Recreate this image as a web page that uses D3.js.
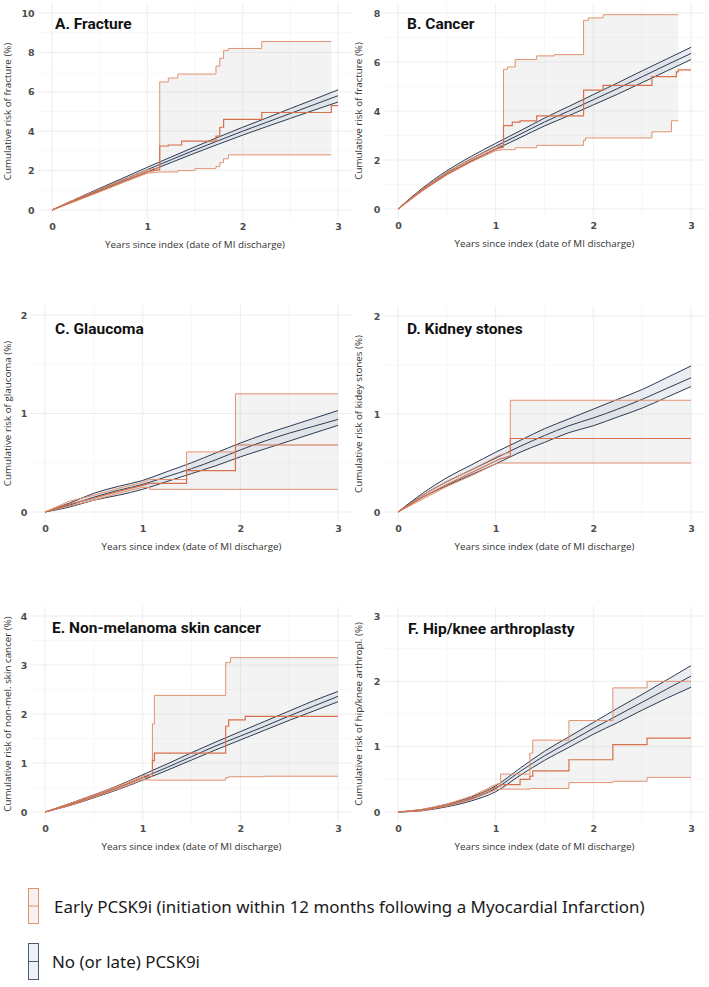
<!DOCTYPE html>
<html>
<head>
<meta charset="utf-8">
<script src="https://cdn.jsdelivr.net/npm/d3@7"></script>
<style>
  body { margin: 0; background: #fff; }
  svg { display: block; }
  .tick text { font-family: "DejaVu Sans", sans-serif; font-weight: bold; font-size: 9.5px; fill: #4d4d4d; }
  .axis-title { font-family: "Open Sans", sans-serif; font-size: 9.8px; fill: #333; }
  .panel-title { font-family: Roboto, sans-serif; font-weight: 700; font-size: 15.5px; fill: #111; }
  .legend-text { font-family: "Noto Sans", sans-serif; font-size: 18px; fill: #1a1a1a; }
</style>
</head>
<body>
<div id="chart"></div>
<script>
// time grid for the "no (or late) PCSK9i" curves
var lateT = [0, 0.25, 0.5, 0.75, 1, 1.25, 1.5, 1.75, 2, 2.25, 2.5, 2.75, 3];
var xTicks = [0, 1, 2, 3];

// A. Fracture
var fractureLateEst = [0, 0.52, 1.03, 1.54, 2.05, 2.55, 3.05, 3.53, 4.0, 4.45, 4.9, 5.35, 5.8];
var fractureLateHi = [0, 0.56, 1.1, 1.63, 2.17, 2.69, 3.21, 3.71, 4.2, 4.67, 5.15, 5.62, 6.1];
var fractureLateLo = [0, 0.48, 0.96, 1.45, 1.93, 2.41, 2.89, 3.35, 3.8, 4.23, 4.65, 5.07, 5.48];
// [time, est, lo, hi] for early PCSK9i (steps = repeated time)
var fractureEarly = [
  [0, 0, 0, 0], [0.25, 0.5, 0.45, 0.56], [0.5, 0.98, 0.92, 1.05], [0.75, 1.47, 1.4, 1.55],
  [1.0, 1.95, 1.87, 2.04], [1.13, 2.05, 1.93, 2.15], [1.13, 3.25, 1.93, 6.5],
  [1.22, 3.25, 1.93, 6.5], [1.22, 3.3, 1.93, 6.7], [1.32, 3.3, 1.93, 6.7], [1.32, 3.3, 2.0, 6.9],
  [1.36, 3.3, 2.0, 6.9], [1.36, 3.5, 2.0, 6.9], [1.5, 3.5, 2.0, 6.9], [1.5, 3.5, 2.1, 6.9],
  [1.72, 3.5, 2.1, 6.9], [1.72, 3.75, 2.2, 7.3], [1.76, 3.75, 2.2, 7.3], [1.76, 4.2, 2.4, 7.7],
  [1.8, 4.2, 2.4, 7.7], [1.8, 4.6, 2.6, 8.1], [1.85, 4.6, 2.6, 8.1], [1.85, 4.6, 2.8, 8.2],
  [2.2, 4.6, 2.8, 8.2], [2.2, 4.95, 2.8, 8.55], [2.93, 4.95, 2.8, 8.55], [2.93, 5.3, null, null],
  [3.0, 5.3, null, null]
];

// B. Cancer
var cancerLateEst = [0, 0.8, 1.48, 2.05, 2.56, 3.05, 3.55, 4.0, 4.46, 4.92, 5.4, 5.88, 6.35];
var cancerLateHi = [0, 0.85, 1.56, 2.15, 2.68, 3.19, 3.71, 4.19, 4.67, 5.15, 5.64, 6.12, 6.6];
var cancerLateLo = [0, 0.75, 1.4, 1.95, 2.44, 2.91, 3.39, 3.81, 4.25, 4.69, 5.16, 5.63, 6.1];
var cancerEarly = [
  [0, 0, 0, 0], [0.25, 0.78, 0.74, 0.82], [0.5, 1.44, 1.39, 1.5], [0.75, 1.98, 1.92, 2.05],
  [1.0, 2.45, 2.38, 2.53], [1.08, 2.52, 2.42, 2.62], [1.08, 3.4, 2.42, 5.7],
  [1.12, 3.4, 2.42, 5.7], [1.12, 3.4, 2.42, 5.8], [1.17, 3.4, 2.42, 5.8], [1.17, 3.55, 2.42, 5.8],
  [1.2, 3.55, 2.42, 5.8], [1.2, 3.55, 2.5, 6.1], [1.25, 3.55, 2.5, 6.1], [1.25, 3.6, 2.5, 6.1],
  [1.42, 3.6, 2.5, 6.1], [1.42, 3.8, 2.6, 6.25], [1.6, 3.8, 2.6, 6.25], [1.6, 3.8, 2.6, 6.3],
  [1.9, 3.8, 2.6, 6.3], [1.9, 4.85, 2.8, 7.7], [1.92, 4.85, 2.8, 7.7], [1.92, 4.85, 2.9, 7.7],
  [1.95, 4.85, 2.9, 7.7], [1.95, 4.85, 2.9, 7.8], [2.1, 4.85, 2.9, 7.8], [2.1, 5.05, 2.9, 7.93],
  [2.6, 5.05, 2.9, 7.93], [2.6, 5.4, 3.15, 7.93], [2.8, 5.4, 3.15, 7.93], [2.8, 5.4, 3.6, 7.93],
  [2.85, 5.4, 3.6, 7.93], [2.85, 5.6, 3.6, 7.93], [2.87, 5.6, 3.6, 7.93], [2.87, 5.68, null, null],
  [3.0, 5.68, null, null]
];

// C. Glaucoma
var glaucomaLateEst = [0, 0.07, 0.15, 0.22, 0.28, 0.36, 0.44, 0.53, 0.63, 0.72, 0.8, 0.87, 0.94];
var glaucomaLateHi = [0, 0.09, 0.19, 0.26, 0.32, 0.41, 0.5, 0.6, 0.7, 0.79, 0.87, 0.95, 1.03];
var glaucomaLateLo = [0, 0.05, 0.12, 0.17, 0.23, 0.31, 0.39, 0.47, 0.56, 0.64, 0.72, 0.8, 0.88];
var glaucomaEarly = [
  [0, 0, 0, 0], [0.25, 0.08, 0.06, 0.11], [0.5, 0.14, 0.12, 0.17], [0.75, 0.21, 0.19, 0.24],
  [1.0, 0.27, 0.25, 0.3], [1.07, 0.29, 0.25, 0.33], [1.07, 0.29, 0.23, 0.33],
  [1.45, 0.29, 0.23, 0.33], [1.45, 0.42, 0.23, 0.61], [1.95, 0.42, 0.23, 0.61],
  [1.95, 0.68, 0.23, 1.2], [3.0, 0.68, 0.23, 1.2]
];

// D. Kidney stones
var kidneyLateEst = [0, 0.17, 0.31, 0.43, 0.55, 0.67, 0.78, 0.88, 0.96, 1.05, 1.15, 1.26, 1.37];
var kidneyLateHi = [0, 0.19, 0.35, 0.48, 0.61, 0.73, 0.85, 0.95, 1.05, 1.15, 1.25, 1.37, 1.49];
var kidneyLateLo = [0, 0.15, 0.27, 0.38, 0.49, 0.61, 0.71, 0.81, 0.88, 0.97, 1.06, 1.17, 1.28];
var kidneyEarly = [
  [0, 0, 0, 0], [0.25, 0.15, 0.13, 0.17], [0.5, 0.28, 0.26, 0.31], [0.75, 0.4, 0.37, 0.43],
  [1.0, 0.52, 0.49, 0.56], [1.04, 0.54, 0.5, 0.58], [1.15, 0.57, 0.5, 0.61],
  [1.15, 0.75, 0.5, 1.14], [3.0, 0.75, 0.5, 1.14]
];

// E. Non-melanoma skin cancer
var skinLateEst = [0, 0.15, 0.32, 0.5, 0.7, 0.91, 1.13, 1.35, 1.55, 1.75, 1.96, 2.16, 2.36];
var skinLateHi = [0, 0.17, 0.35, 0.54, 0.76, 0.98, 1.21, 1.43, 1.64, 1.85, 2.06, 2.27, 2.46];
var skinLateLo = [0, 0.13, 0.29, 0.46, 0.65, 0.85, 1.06, 1.27, 1.47, 1.67, 1.87, 2.06, 2.25];
var skinEarly = [
  [0, 0, 0, 0], [0.25, 0.15, 0.13, 0.17], [0.5, 0.32, 0.3, 0.35], [0.75, 0.5, 0.47, 0.53],
  [1.0, 0.7, 0.66, 0.74], [1.1, 0.73, 0.65, 0.78], [1.1, 1.05, 0.65, 1.8],
  [1.12, 1.05, 0.65, 1.8], [1.12, 1.2, 0.65, 2.38], [1.85, 1.2, 0.65, 2.38],
  [1.85, 1.75, 0.7, 3.05], [1.88, 1.75, 0.7, 3.05], [1.88, 1.88, 0.72, 3.05],
  [1.9, 1.88, 0.72, 3.05], [1.9, 1.88, 0.72, 3.15], [2.05, 1.88, 0.72, 3.15],
  [2.05, 1.95, 0.72, 3.15], [2.25, 1.95, 0.72, 3.15], [2.25, 1.95, 0.73, 3.15],
  [3.0, 1.95, 0.73, 3.15]
];

// F. Hip/knee arthroplasty
var hipLateEst = [0, 0.03, 0.1, 0.2, 0.36, 0.62, 0.86, 1.07, 1.28, 1.48, 1.68, 1.88, 2.08];
var hipLateHi = [0, 0.04, 0.12, 0.23, 0.4, 0.67, 0.93, 1.15, 1.37, 1.59, 1.8, 2.02, 2.24];
var hipLateLo = [0, 0.02, 0.08, 0.17, 0.31, 0.56, 0.79, 0.99, 1.19, 1.37, 1.56, 1.74, 1.91];
var hipEarly = [
  [0, 0, 0, 0], [0.25, 0.03, 0.02, 0.04], [0.5, 0.1, 0.09, 0.12], [0.75, 0.21, 0.19, 0.24],
  [1.0, 0.38, 0.34, 0.42], [1.05, 0.4, 0.35, 0.44], [1.05, 0.42, 0.35, 0.58],
  [1.25, 0.42, 0.35, 0.58], [1.25, 0.5, 0.35, 0.58], [1.35, 0.5, 0.35, 0.58],
  [1.35, 0.55, 0.36, 0.9], [1.38, 0.55, 0.36, 0.9], [1.38, 0.63, 0.36, 1.1],
  [1.75, 0.63, 0.36, 1.1], [1.75, 0.8, 0.45, 1.4], [2.2, 0.8, 0.45, 1.4],
  [2.2, 1.03, 0.47, 1.9], [2.55, 1.03, 0.47, 1.9], [2.55, 1.13, 0.53, 2.0], [3.0, 1.13, 0.53, 2.0]
];

var titles = ["A. Fracture", "B. Cancer", "C. Glaucoma", "D. Kidney stones",
  "E. Non-melanoma skin cancer", "F. Hip/knee arthroplasty"];
var yTitles = ["Cumulative risk of fracture (%)", "Cumulative risk of fracture (%)",
  "Cumulative risk of glaucoma (%)", "Cumulative risk of kidey stones (%)",
  "Cumulative risk of non-mel. skin cancer (%)", "Cumulative risk of hip/knee arthropl. (%)"];
var yTickSets = [[0, 2, 4, 6, 8, 10], [0, 2, 4, 6, 8], [0, 1, 2], [0, 1, 2], [0, 1, 2, 3, 4], [0, 1, 2, 3]];
var xTitle = "Years since index (date of MI discharge)";
var legendLabels = ["Early PCSK9i (initiation within 12 months following a Myocardial Infarction)",
  "No (or late) PCSK9i"];

var lateSeries = [
  [fractureLateEst, fractureLateLo, fractureLateHi],
  [cancerLateEst, cancerLateLo, cancerLateHi],
  [glaucomaLateEst, glaucomaLateLo, glaucomaLateHi],
  [kidneyLateEst, kidneyLateLo, kidneyLateHi],
  [skinLateEst, skinLateLo, skinLateHi],
  [hipLateEst, hipLateLo, hipLateHi]
];
var earlySeries = [fractureEarly, cancerEarly, glaucomaEarly, kidneyEarly, skinEarly, hipEarly];

// pixel positions of x=0, x=3, y=0 and y=top tick for each panel
var layout = [
  { left: 52, right: 338, bottom: 210, top: 13, titleX: 55, titleY: 29, yTitleX: 11 },
  { left: 398, right: 691, bottom: 209, top: 13, titleX: 407, titleY: 29, yTitleX: 362 },
  { left: 45, right: 338, bottom: 512, top: 315, titleX: 55, titleY: 334, yTitleX: 11 },
  { left: 398, right: 691, bottom: 512, top: 316, titleX: 407, titleY: 334, yTitleX: 362 },
  { left: 45, right: 338, bottom: 812, top: 616, titleX: 52, titleY: 633, yTitleX: 11 },
  { left: 398, right: 691, bottom: 812, top: 616, titleX: 408, titleY: 634, yTitleX: 362 }
];

var orangeLine = "#d7714b", orangeCI = "#e3916f", navy = "#2d3b52";

var svg = d3.select("#chart").append("svg")
  .attr("width", 709).attr("height", 987);

layout.forEach(function (p, i) {
  var ticks = yTickSets[i];
  var yMax = ticks[ticks.length - 1];
  var x = d3.scaleLinear().domain([0, 3]).range([p.left, p.right]);
  var y = d3.scaleLinear().domain([0, yMax]).range([p.bottom, p.top]);
  var xLo = -0.15, xHi = 3.15, yLo = -0.05 * yMax, yHi = 1.05 * yMax;
  var g = svg.append("g");

  // grid (minor then major)
  var step = ticks[1] - ticks[0];
  var yMinor = ticks.slice(0, -1).map(function (d) { return d + step / 2; });
  var xMinor = [0.5, 1.5, 2.5];
  g.selectAll(".ymin").data(yMinor).enter().append("line")
    .attr("x1", x(xLo)).attr("x2", x(xHi)).attr("y1", y).attr("y2", y)
    .attr("stroke", "#f3f3f3").attr("stroke-width", 0.6);
  g.selectAll(".xmin").data(xMinor).enter().append("line")
    .attr("y1", y(yLo)).attr("y2", y(yHi)).attr("x1", x).attr("x2", x)
    .attr("stroke", "#f3f3f3").attr("stroke-width", 0.6);
  g.selectAll(".ymaj").data(ticks).enter().append("line")
    .attr("x1", x(xLo)).attr("x2", x(xHi)).attr("y1", y).attr("y2", y)
    .attr("stroke", "#e8e8e8").attr("stroke-width", 0.8);
  g.selectAll(".xmaj").data(xTicks).enter().append("line")
    .attr("y1", y(yLo)).attr("y2", y(yHi)).attr("x1", x).attr("x2", x)
    .attr("stroke", "#e8e8e8").attr("stroke-width", 0.8);

  // axes
  var xAxis = g.append("g").attr("transform", "translate(0," + p.bottom + ")")
    .call(d3.axisBottom(x).tickValues(xTicks).tickSize(0).tickPadding(13).tickFormat(d3.format("d")));
  xAxis.select(".domain").remove();
  var yAxis = g.append("g").attr("transform", "translate(" + x(xLo) + ",0)")
    .call(d3.axisLeft(y).tickValues(ticks).tickSize(0).tickPadding(3).tickFormat(d3.format("d")));
  yAxis.select(".domain").remove();
  g.selectAll(".tick text").attr("font-family", null).attr("font-size", null);

  g.append("text").attr("class", "axis-title")
    .attr("x", (x(xLo) + x(xHi)) / 2).attr("y", p.bottom + 38)
    .attr("text-anchor", "middle").text(xTitle);
  g.append("text").attr("class", "axis-title")
    .attr("transform", "translate(" + p.yTitleX + "," + (y(yLo) + y(yHi)) / 2 + ") rotate(-90)")
    .attr("text-anchor", "middle").text(yTitles[i]);

  // early PCSK9i confidence band
  var early = earlySeries[i];
  var earlyArea = d3.area()
    .defined(function (d) { return d[2] !== null; })
    .x(function (d) { return x(d[0]); })
    .y0(function (d) { return y(d[2]); })
    .y1(function (d) { return y(d[3]); });
  g.append("path").datum(early).attr("d", earlyArea)
    .attr("fill", "#c8c8c8").attr("fill-opacity", 0.22);

  // no (or late) band + lines
  var late = lateSeries[i];
  var rows = lateT.map(function (t, k) { return [t, late[0][k], late[1][k], late[2][k]]; });
  var lateArea = d3.area().curve(d3.curveMonotoneX)
    .x(function (d) { return x(d[0]); })
    .y0(function (d) { return y(d[2]); })
    .y1(function (d) { return y(d[3]); });
  g.append("path").datum(rows).attr("d", lateArea)
    .attr("fill", "#b9c6d6").attr("fill-opacity", 0.3);
  [1, 3, 2].forEach(function (c) {
    g.append("path").datum(rows)
      .attr("d", d3.line().curve(d3.curveMonotoneX)
        .x(function (d) { return x(d[0]); })
        .y(function (d) { return y(d[c]); }))
      .attr("fill", "none").attr("stroke", navy).attr("stroke-width", 1);
  });

  // early PCSK9i lines
  [2, 3, 1].forEach(function (c) {
    g.append("path").datum(early)
      .attr("d", d3.line()
        .defined(function (d) { return d[c] !== null; })
        .x(function (d) { return x(d[0]); })
        .y(function (d) { return y(d[c]); }))
      .attr("fill", "none")
      .attr("stroke", c === 1 ? orangeLine : orangeCI)
      .attr("stroke-width", c === 1 ? 1.2 : 1);
  });

  g.append("text").attr("class", "panel-title")
    .attr("x", p.titleX).attr("y", p.titleY)
    .text(titles[i]);
});

// legend
var legendRows = [
  { y: 888, h: 35, stroke: "#e3916f", fill: "#f6f2f0", textX: 54 },
  { y: 943, h: 36, stroke: "#4b5b74", fill: "#eef1f5", textX: 52 }
];
var lg = svg.append("g");
legendRows.forEach(function (r, i) {
  lg.append("rect").attr("x", 28.5).attr("y", r.y + 0.5).attr("width", 10).attr("height", r.h)
    .attr("fill", r.fill).attr("stroke", r.stroke).attr("stroke-width", 1);
  lg.append("line").attr("x1", 28.5).attr("x2", 38.5)
    .attr("y1", r.y + 0.5 + r.h / 2).attr("y2", r.y + 0.5 + r.h / 2)
    .attr("stroke", r.stroke).attr("stroke-width", 1);
  lg.append("text").attr("class", "legend-text")
    .attr("x", r.textX).attr("y", r.y + r.h / 2 + 7)
    .text(legendLabels[i]);
});
// fit legend font so the long label spans like the original
var first = lg.select(".legend-text").node();
var len = first.getComputedTextLength();
var fs = 18 * 591 / len;
lg.selectAll(".legend-text").style("font-size", fs + "px");
</script>
</body>
</html>
